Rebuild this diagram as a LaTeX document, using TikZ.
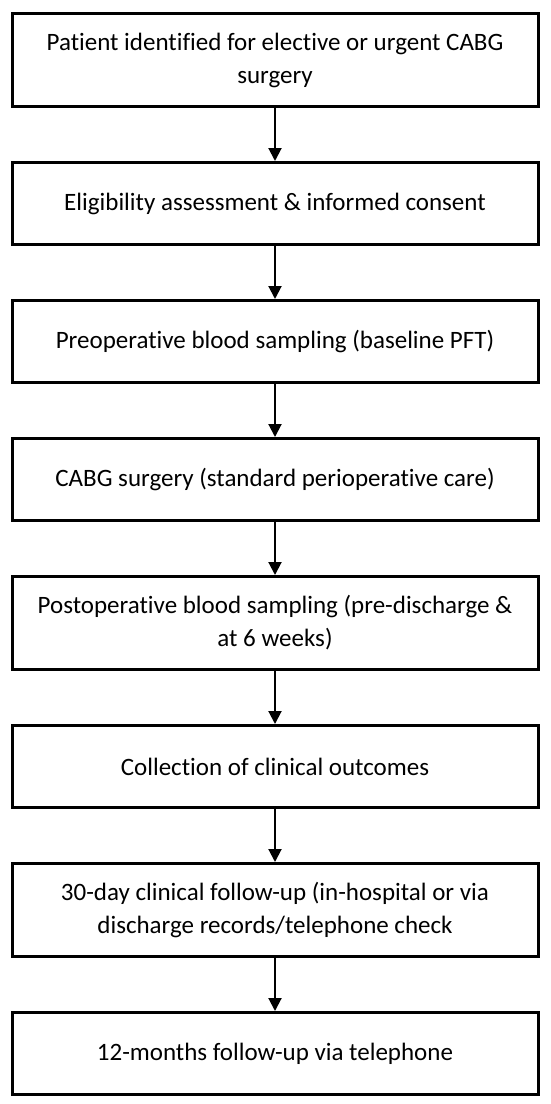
\documentclass[tikz,border=0pt]{standalone}
\usepackage{fontspec}
\setmainfont{Carlito}[Ligatures=CommonOff]
\usetikzlibrary{positioning,arrows.meta}

\tikzset{
  stepbox/.style={draw, line width=3pt, minimum width=526pt, minimum height=82pt,
    align=center, font=\fontsize{25}{33}\selectfont},
  tallbox/.style={stepbox, minimum height=93pt},
  flow/.style={line width=2pt, -{Triangle[length=13pt,width=13pt]}}
}

\begin{document}
\begin{tikzpicture}[node distance=53pt]
		% page is 550 x 1104
		\useasboundingbox (0,0) rectangle (550pt,-1104pt);
		\node[tallbox, anchor=north] (patient) at (275pt,-12pt) {Patient identified for elective or urgent CABG\\surgery};
		\node[stepbox, below=of patient] (consent) {Eligibility assessment \& informed consent};
		\node[stepbox, below=of consent] (preop) {Preoperative blood sampling (baseline PFT)};
		\node[stepbox, below=of preop] (cabg) {CABG surgery (standard perioperative care)};
		\node[tallbox, below=of cabg] (postop) {Postoperative blood sampling (pre-discharge \&\\at 6 weeks)};
		\node[stepbox, below=of postop] (outcomes) {Collection of clinical outcomes};
		\node[tallbox, below=of outcomes] (followup) {30-day clinical follow-up (in-hospital or via\\discharge records/telephone check};
		\node[stepbox, below=of followup] (phone) {12-months follow-up via telephone};
		% arrows between the steps
		\foreach \from/\to in {patient/consent, consent/preop, preop/cabg, cabg/postop,
		    postop/outcomes, outcomes/followup, followup/phone}
			\draw[flow] (\from) -- (\to);
	\end{tikzpicture}
\end{document}
